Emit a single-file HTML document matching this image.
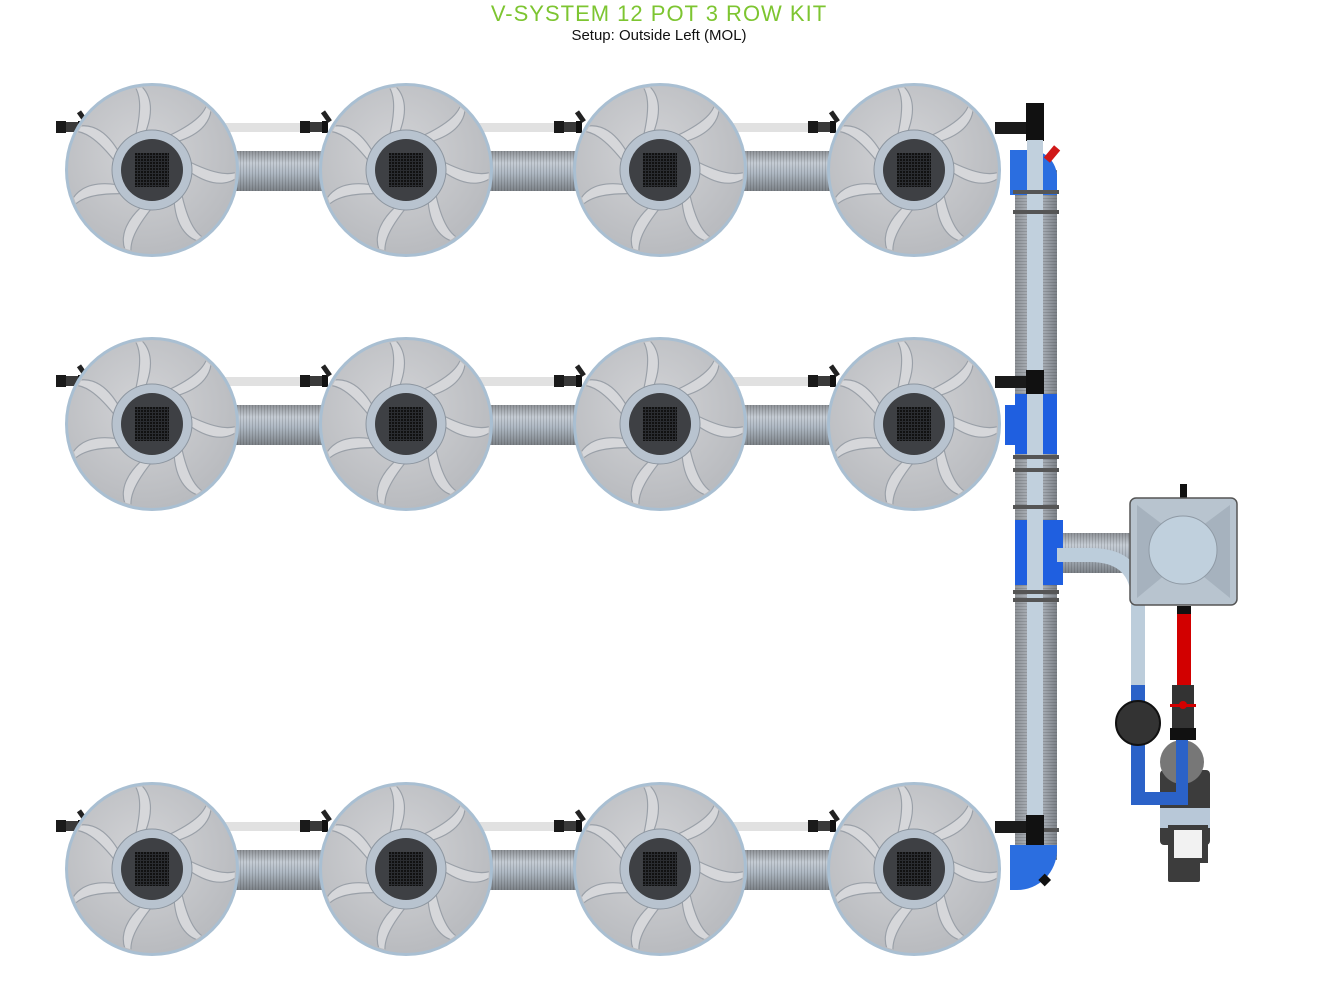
<!DOCTYPE html>
<html><head><meta charset="utf-8"><style>
html,body{margin:0;padding:0;background:#fff;width:1319px;height:997px;overflow:hidden}
svg{display:block}
</style></head><body>
<svg width="1319" height="997" viewBox="0 0 1319 997" xmlns="http://www.w3.org/2000/svg">
<defs>
<linearGradient id="hose" x1="0" y1="0" x2="0" y2="1">
<stop offset="0" stop-color="#8e9297"/><stop offset="0.3" stop-color="#c5ccd4"/><stop offset="0.55" stop-color="#aeb8c3"/><stop offset="1" stop-color="#7d8288"/></linearGradient>
<linearGradient id="vhose" x1="0" y1="0" x2="1" y2="0">
<stop offset="0" stop-color="#8e9297"/><stop offset="0.5" stop-color="#b9c0c8"/><stop offset="1" stop-color="#7d8288"/></linearGradient>
<pattern id="rib" width="3" height="3" patternUnits="userSpaceOnUse"><rect width="1" height="3" fill="#000" opacity="0.12"/></pattern>
<pattern id="ribv" width="3" height="3" patternUnits="userSpaceOnUse"><rect width="3" height="1" fill="#000" opacity="0.12"/></pattern>
<radialGradient id="potg" cx="0.45" cy="0.4" r="0.6"><stop offset="0" stop-color="#d2d3d6"/><stop offset="1" stop-color="#b9bbbf"/></radialGradient>
<pattern id="grid" width="3" height="3" patternUnits="userSpaceOnUse"><rect width="3" height="3" fill="#111"/><rect width="1" height="3" fill="#2a2c30"/><rect width="3" height="1" fill="#2a2c30"/></pattern>
<clipPath id="pc"><circle r="83"/></clipPath>
<g id="blade"><path d="M10,-25 C32,-35 45,-45 43,-59 C50,-43 42,-29 20,-22 Z" transform="scale(1.3)" fill="#d6d7da" stroke="#9aa0a8" stroke-width="0.9"/></g>
<g id="pot">
<circle r="87" fill="#a9bfd2"/>
<circle r="84" fill="url(#potg)"/>
<g clip-path="url(#pc)">
<use href="#blade" transform="rotate(0)"/><use href="#blade" transform="rotate(51.4)"/><use href="#blade" transform="rotate(102.8)"/><use href="#blade" transform="rotate(154.2)"/><use href="#blade" transform="rotate(205.6)"/><use href="#blade" transform="rotate(257)"/><use href="#blade" transform="rotate(308.4)"/>
</g>
<circle r="40" fill="#b8c3cf" stroke="#8d96a0" stroke-width="1"/>
<circle r="31" fill="#3e4044"/>
<rect x="-17" y="-17" width="34" height="34" fill="url(#grid)"/>
</g>
<g id="fit">
<rect x="0" y="-6" width="10" height="12" fill="#1a1a1a"/>
<rect x="10" y="-5" width="12" height="10" fill="#3a3a3a"/>
<rect x="22" y="-6" width="6" height="12" fill="#111"/>
<rect x="24" y="-16" width="5" height="12" fill="#222" transform="rotate(-35 26 -10)"/>
</g>
</defs>

<text x="659" y="21" text-anchor="middle" font-family="Liberation Sans, sans-serif" font-size="22" fill="#7dc531" letter-spacing="1">V-SYSTEM 12 POT 3 ROW KIT</text>
<text x="659" y="40" text-anchor="middle" font-family="Liberation Sans, sans-serif" font-size="15" fill="#111">Setup: Outside Left (MOL)</text>

<g id="row">
<rect x="230" y="151" width="100" height="40" fill="url(#hose)"/><rect x="230" y="151" width="100" height="40" fill="url(#rib)"/>
<rect x="484" y="151" width="100" height="40" fill="url(#hose)"/><rect x="484" y="151" width="100" height="40" fill="url(#rib)"/>
<rect x="738" y="151" width="100" height="40" fill="url(#hose)"/><rect x="738" y="151" width="100" height="40" fill="url(#rib)"/>
<rect x="225" y="123" width="80" height="9" fill="#e1e1e1"/>
<rect x="479" y="123" width="80" height="9" fill="#e1e1e1"/>
<rect x="733" y="123" width="80" height="9" fill="#e1e1e1"/>
<use href="#fit" x="300" y="127"/><use href="#fit" x="554" y="127"/><use href="#fit" x="808" y="127"/><use href="#fit" x="56" y="127"/>
</g>
<use href="#row" y="254"/>
<use href="#row" y="699"/>

<use href="#pot" x="152" y="170"/><use href="#pot" x="406" y="170"/><use href="#pot" x="660" y="170"/><use href="#pot" x="914" y="170"/>
<use href="#pot" x="152" y="424"/><use href="#pot" x="406" y="424"/><use href="#pot" x="660" y="424"/><use href="#pot" x="914" y="424"/>
<use href="#pot" x="152" y="869"/><use href="#pot" x="406" y="869"/><use href="#pot" x="660" y="869"/><use href="#pot" x="914" y="869"/>

<rect x="1015" y="170" width="42" height="690" fill="url(#vhose)"/>
<rect x="1015" y="170" width="42" height="690" fill="url(#ribv)"/>
<rect x="1027" y="105" width="16" height="745" fill="#c1d0dd"/>
<rect x="1026" y="103" width="18" height="38" fill="#111"/>
<rect x="995" y="122" width="31" height="12" fill="#1a1a1a"/>
<path d="M1010,150 L1030,150 A27,27 0 0 1 1057,177 L1057,195 L1010,195 Z" fill="#2b6ee0"/>
<rect x="1027" y="140" width="16" height="60" fill="#c1d0dd"/>
<rect x="1048" y="146" width="8" height="16" fill="#d01818" transform="rotate(40 1052 154)"/>
<rect x="995" y="376" width="31" height="12" fill="#1a1a1a"/>
<rect x="1026" y="370" width="18" height="24" fill="#111"/>
<rect x="1015" y="394" width="12" height="60" fill="#1f5fe0"/><rect x="1043" y="394" width="14" height="60" fill="#1f5fe0"/>
<rect x="1005" y="405" width="14" height="40" fill="#1f5fe0"/>
<rect x="1015" y="520" width="12" height="65" fill="#1f5fe0"/><rect x="1043" y="520" width="20" height="65" fill="#1f5fe0"/>
<rect x="1063" y="533" width="70" height="40" fill="url(#hose)"/><rect x="1063" y="533" width="70" height="40" fill="url(#rib)"/>
<path d="M1057,548 L1090,548 Q1145,548 1145,600 L1145,685 L1131,685 L1131,600 Q1131,562 1090,562 L1057,562 Z" fill="#bccddb"/>
<g fill="#555"><rect x="1013" y="190" width="46" height="4"/><rect x="1013" y="210" width="46" height="4"/><rect x="1013" y="455" width="46" height="4"/><rect x="1013" y="468" width="46" height="4"/><rect x="1013" y="505" width="46" height="4"/><rect x="1013" y="590" width="46" height="4"/><rect x="1013" y="598" width="46" height="4"/><rect x="1013" y="828" width="46" height="4"/></g>
<rect x="995" y="821" width="31" height="12" fill="#1a1a1a"/>
<rect x="1026" y="815" width="18" height="30" fill="#111"/>
<path d="M1010,845 L1057,845 L1057,850 A40,40 0 0 1 1017,890 L1010,890 Z" fill="#2b6ee0"/>
<rect x="1040" y="875" width="9" height="9" fill="#111" transform="rotate(45 1044 880)"/>
<rect x="1180" y="484" width="7" height="14" fill="#111"/>
<rect x="1130" y="498" width="107" height="107" rx="6" fill="#b8c4cf" stroke="#555" stroke-width="1.5"/>
<path d="M1137,505 L1183,540 L1230,505 L1230,598 L1183,560 L1137,598 Z" fill="#9aa6b2" opacity="0.6"/>
<circle cx="1183" cy="550" r="34" fill="#c0d0dd" stroke="#8f9aa5"/>
<rect x="1177" y="606" width="14" height="8" fill="#111"/>
<rect x="1177" y="614" width="14" height="72" fill="#d20000"/>
<rect x="1172" y="685" width="22" height="50" fill="#333"/>
<rect x="1170" y="704" width="26" height="3" fill="#d20000"/>
<circle cx="1183" cy="705" r="4" fill="#d20000"/>
<rect x="1131" y="685" width="14" height="120" fill="#2b62c8"/>
<circle cx="1138" cy="723" r="22" fill="#333" stroke="#111" stroke-width="2"/>
<rect x="1160" y="770" width="50" height="75" rx="4" fill="#3c3c3c"/>
<circle cx="1182" cy="762" r="22" fill="#777"/>
<rect x="1170" y="728" width="26" height="12" fill="#111"/>
<path d="M1131,800 L1131,795 Q1131,805 1140,805 L1188,805 L1188,740 L1176,740 L1176,792 L1145,792 L1145,800 Z" fill="#2b62c8"/>
<rect x="1131" y="780" width="14" height="25" fill="#2b62c8"/>
<rect x="1160" y="808" width="50" height="20" fill="#b8c8d8"/>
<rect x="1168" y="825" width="40" height="38" fill="#3c3c3c"/>
<rect x="1174" y="830" width="28" height="28" fill="#f2f2f2"/>
<rect x="1168" y="860" width="32" height="22" rx="2" fill="#3c3c3c"/>
</svg>
</body></html>
